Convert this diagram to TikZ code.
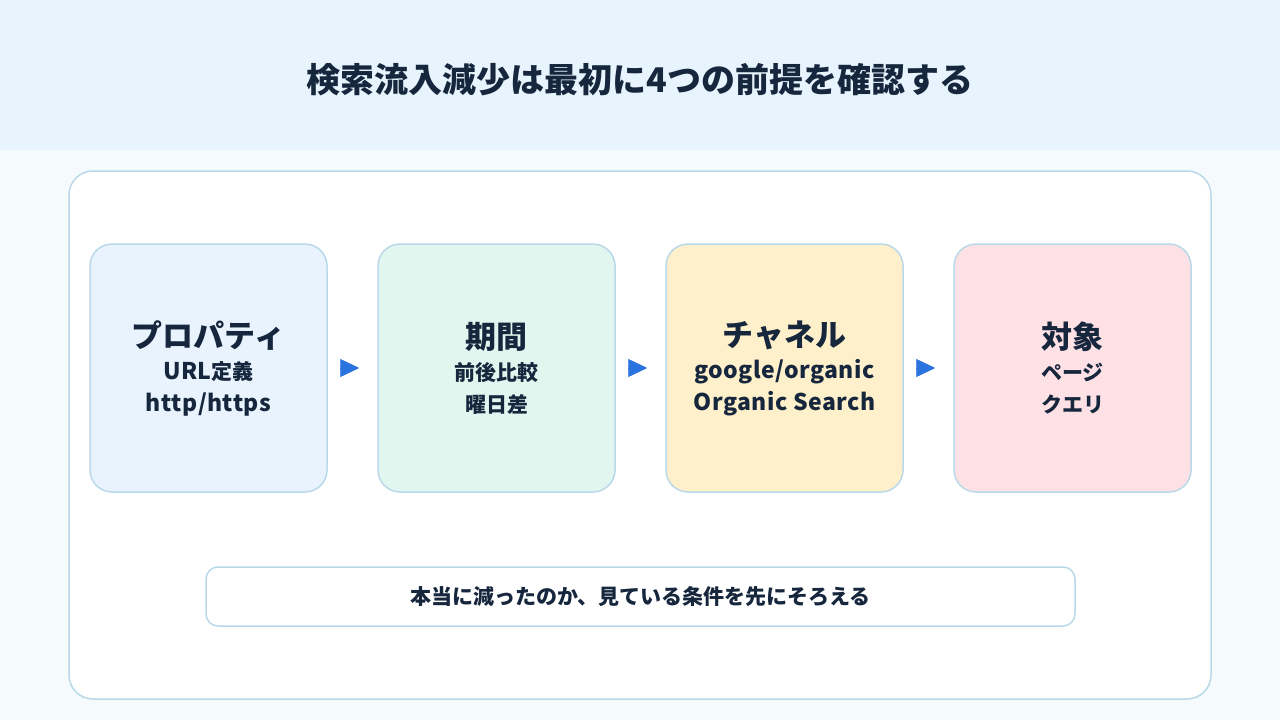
\documentclass[tikz,border=0pt]{standalone}
\usepackage{fontspec}
\setmainfont{Noto Sans CJK JP}
\usepackage{tikz}
\usetikzlibrary{arrows.meta, positioning}
\definecolor{ink}{HTML}{16263D}
\definecolor{bandblue}{HTML}{E8F4FD}
\definecolor{pagebg}{HTML}{F5FAFD}
\definecolor{edgeblue}{HTML}{B9D9EA}
\definecolor{arrowblue}{HTML}{2A74E0}
\definecolor{stepblue}{HTML}{E8F3FD}
\definecolor{stepgreen}{HTML}{E0F6EE}
\definecolor{stepyellow}{HTML}{FEF0CB}
\definecolor{steppink}{HTML}{FDE1E5}
% texto latino algo más ancho
\newcommand{\lat}[1]{{\fontsize{23}{32}\selectfont\addfontfeature{LetterSpace=2}#1}}

\begin{document}
\begin{tikzpicture}[
    x=1pt, y=-1pt,
    % Estilos de cajas
    panel/.style={
        draw=edgeblue, fill=white, line width=1.5pt, rounded corners=24pt
    },
    stepbox/.style={
        draw=edgeblue, line width=1.5pt, rounded corners=22pt,
        minimum width=237pt, minimum height=248pt,
        font=\fontsize{21}{32}\selectfont\bfseries, text=ink, align=center
    },
    note/.style={
        draw=edgeblue, fill=white, line width=1.5pt, rounded corners=12pt,
        minimum width=869pt, minimum height=59pt,
        font=\fontsize{21}{24}\selectfont\bfseries, text=ink
    },
    % Flecha entre pasos
    flow/.style={
        -{Triangle[length=19pt, width=18pt]}, line width=0.5pt,
        draw=arrowblue, fill=arrowblue,
        shorten <=14pt, shorten >=18pt
    }
]

    % 1. Fondo
    \useasboundingbox (0,0) rectangle (1280,720);
    \fill[pagebg] (0,0) rectangle (1280,720);
    \fill[bandblue] (0,0) rectangle (1280,150);

    % 2. Título
    \node[font=\fontsize{34}{40}\selectfont\bfseries, text=ink] (title) at (640,80)
        {検索流入減少は最初に4つの前提を確認する};

    % 3. Panel principal
    \draw[panel] (69,171) rectangle (1211,699);

    % 4. Los cuatro pasos
    \node[stepbox, fill=stepblue]   (prop) at (208.5,368)
        {{\fontsize{31}{38}\selectfont プロパティ}\\\lat{URL}定義\\\lat{http/https}};
    \node[stepbox, fill=stepgreen]  (term) at (496.5,368)
        {{\fontsize{31}{38}\selectfont 期間}\\前後比較\\曜日差};
    \node[stepbox, fill=stepyellow] (chan) at (784.5,368)
        {{\fontsize{31}{38}\selectfont チャネル}\\\lat{google/organic}\\\lat{Organic Search}};
    \node[stepbox, fill=steppink]   (target) at (1072.5,368)
        {{\fontsize{31}{38}\selectfont 対象}\\ページ\\クエリ};

    % 5. Flechas
    \foreach \a/\b in {prop/term, term/chan, chan/target}
        \draw[flow] (\a.east) -- (\b.west);

    % 6. Nota inferior
    \node[note] (summary) at (640.5,596.5)
        {本当に減ったのか、見ている条件を先にそろえる};

\end{tikzpicture}
\end{document}
